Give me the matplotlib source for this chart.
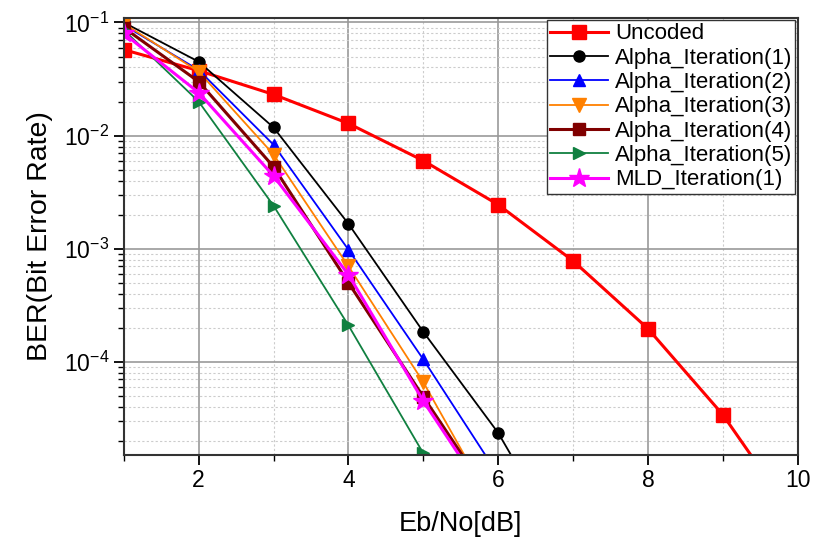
import matplotlib.pyplot as plt
from matplotlib.ticker import LogLocator, MultipleLocator, NullFormatter

plt.rcParams['font.family'] = ['Liberation Sans', 'DejaVu Sans']
plt.rcParams['mathtext.fontset'] = 'custom'
plt.rcParams['mathtext.rm'] = 'Liberation Sans'
plt.rcParams['mathtext.it'] = 'Liberation Sans:italic'
plt.rcParams['mathtext.bf'] = 'Liberation Sans:bold'

# Eb/No [dB]
snr = [1, 2, 3, 4, 5, 6, 7, 8, 9, 10]

uncoded = [0.0575, 0.0375, 0.0231, 0.0128, 0.0060, 0.00245, 7.8e-4, 1.96e-4, 3.4e-5, 3.8e-6]
alpha1 = [0.100, 0.045, 0.0118, 0.00166, 1.84e-4, 2.35e-5, 1.7e-6]
alpha2 = [0.095, 0.038, 0.0083, 9.8e-4, 1.05e-4, 1.0e-5]
alpha3 = [0.098, 0.0368, 0.0068, 7.0e-4, 6.6e-5, 4.4e-6]
alpha4 = [0.090, 0.030, 0.0053, 5.0e-4, 4.9e-5, 5.0e-6]
alpha5 = [0.086, 0.020, 0.0024, 2.1e-4, 1.55e-5, 1.2e-6]
mld1 = [0.080, 0.024, 0.0044, 5.9e-4, 4.5e-5, 4.5e-6]

fig = plt.figure(figsize=(8.14, 5.39), dpi=100)
ax = fig.add_axes([0.152, 0.156, 0.828, 0.811])

ax.plot(snr, uncoded, color='#ff0000', marker='s', ms=10, lw=2.2, label='Uncoded')
ax.plot(snr[:len(alpha1)], alpha1, color='black', marker='o', ms=8, lw=1.3, label='Alpha_Iteration(1)')
ax.plot(snr[:len(alpha2)], alpha2, color='#0000ff', marker='^', ms=9, lw=1.3, label='Alpha_Iteration(2)')
ax.plot(snr[:len(alpha3)], alpha3, color='#ff8000', marker='v', ms=10, lw=1.3, label='Alpha_Iteration(3)')
ax.plot(snr[:len(alpha4)], alpha4, color='#800000', marker='s', ms=9, lw=2.2, label='Alpha_Iteration(4)')
ax.plot(snr[:len(alpha5)], alpha5, color='#108040', marker='>', ms=9, lw=1.3, label='Alpha_Iteration(5)')
ax.plot(snr[:len(mld1)], mld1, color='#ff00ff', marker='*', ms=15, lw=2.2, label='MLD_Iteration(1)')

ax.set_yscale('log')
ax.set_xlim(1, 10)
ax.set_ylim(1.5e-5, 0.11)
ax.xaxis.set_major_locator(MultipleLocator(2))
ax.xaxis.set_minor_locator(MultipleLocator(1))
ax.yaxis.set_major_locator(LogLocator(base=10, numticks=10))
ax.yaxis.set_minor_locator(LogLocator(base=10, subs=range(2, 10), numticks=20))
ax.yaxis.set_minor_formatter(NullFormatter())

ax.grid(True, which='major', color='#999999', lw=1.2)
ax.grid(True, which='minor', color='#cccccc', lw=0.8, ls=(0, (2, 2)))
ax.set_axisbelow(True)

ax.tick_params(which='both', direction='out', labelsize=16.5)
ax.tick_params(which='major', length=7, width=1.3)
ax.tick_params(which='minor', length=4, width=1)
for s in ax.spines.values():
    s.set_linewidth(1.5)
    s.set_color('#333333')

ax.set_xlabel('Eb/No[dB]', fontsize=19.5, labelpad=13)
ax.set_ylabel('BER(Bit Error Rate)', fontsize=20.5, labelpad=8)

leg = ax.legend(loc='upper right', fontsize=16, fancybox=False, framealpha=1,
                edgecolor='#333333', borderpad=0.15, labelspacing=0.15,
                handlelength=2.6, handletextpad=0.3, borderaxespad=0.1)

fig.savefig('out.png', dpi=100)
